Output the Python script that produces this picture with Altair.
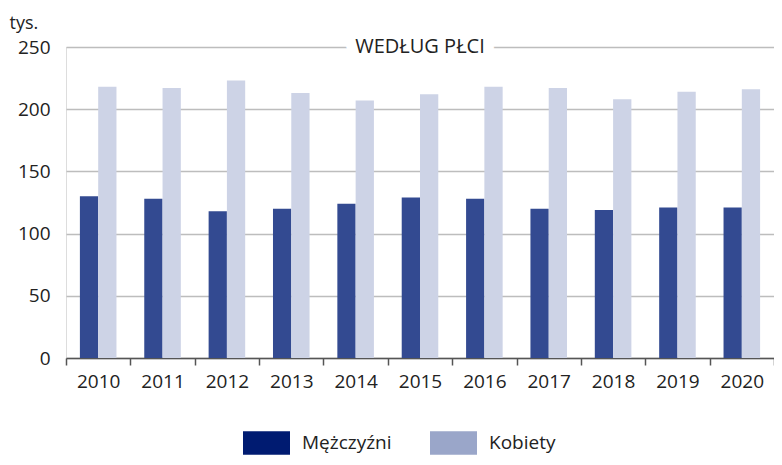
import altair as alt
import pandas as pd

years = ["2010", "2011", "2012", "2013", "2014", "2015", "2016", "2017", "2018", "2019", "2020"]
men = [130, 128, 118, 120, 124, 129, 128, 120, 119, 121, 121]
women = [218, 217, 223, 213, 207, 212, 218, 217, 208, 214, 216]
series = ["Mężczyźni", "Kobiety"]
bar_colors = ["#334a91", "#cdd3e6"]
legend_colors = ["#001b71", "#9aa6c9"]
y_ticks = [0, 50, 100, 150, 200, 250]
title_text = "WEDŁUG PŁCI"

rows = []
for i, y in enumerate(years):
    rows.append({"rok": y, "seria": series[0], "v": men[i]})
    rows.append({"rok": y, "seria": series[1], "v": women[i]})
df = pd.DataFrame(rows)

FONT = "Open Sans"
W, H = 708, 311
FS = 19

x_enc = alt.X("rok:N", sort=years, title=None,
              scale=alt.Scale(paddingInner=0, paddingOuter=0),
              axis=alt.Axis(labelAngle=0, labelFontSize=FS, labelColor="#222222",
                            labelFont=FONT, domainColor="#555555", domainWidth=1.5,
                            tickColor="#555555", tickWidth=1.5, tickSize=7,
                            tickBand="extent", labelPadding=7, grid=False))
y_enc = alt.Y("v:Q", title="tys.",
              scale=alt.Scale(domain=[0, 250], nice=False),
              axis=alt.Axis(values=y_ticks, labelFontSize=FS, labelColor="#222222",
                            labelFont=FONT, domain=False, ticks=False, labelPadding=16,
                            grid=True, gridColor="#bdbdbd", gridWidth=1.4,
                            titleAngle=0, titleAlign="left", titleBaseline="alphabetic",
                            titleX=-57, titleY=-19, titleFontSize=18,
                            titleFontWeight="normal", titleFont=FONT, titleColor="#222222"))
xo = alt.XOffset("seria:N", sort=series,
                 scale=alt.Scale(paddingInner=0, paddingOuter=0.76))

bars = alt.Chart(df).mark_bar().encode(
    x=x_enc, y=y_enc, xOffset=xo,
    color=alt.Color("seria:N", sort=series,
                    scale=alt.Scale(domain=series, range=bar_colors), legend=None),
)

legend_layer = alt.Chart(df).mark_bar(opacity=0).encode(
    x=alt.X("rok:N", sort=years), y=alt.Y("v:Q"), xOffset=xo,
    color=alt.Color("seria:N", sort=series, title=None,
                    scale=alt.Scale(domain=series, range=legend_colors),
                    legend=alt.Legend(orient="none", direction="horizontal",
                                      legendX=177, legendY=372,
                                      symbolType="M-1,-0.5H1V0.5H-1Z", symbolSize=2209,
                                      symbolOpacity=1, symbolStrokeWidth=0,
                                      labelFontSize=FS, labelFont=FONT, labelColor="#222222",
                                      labelOffset=12, columnPadding=38, labelLimit=300)),
)

tdf = pd.DataFrame({"t": [title_text], "v": [250]})
mask = alt.Chart(tdf).mark_text(fontSize=20, font=FONT, color="white", stroke="white",
                                strokeWidth=22, baseline="middle", align="center").encode(
    text="t:N", x=alt.value(W / 2), y=alt.Y("v:Q"))
title = alt.Chart(tdf).mark_text(fontSize=20, font=FONT, color="#222222",
                                 baseline="middle", align="center").encode(
    text="t:N", x=alt.value(W / 2), y=alt.Y("v:Q"))

chart = alt.layer(bars, legend_layer, mask, title).resolve_scale(color="independent").properties(
    width=W, height=H,
    autosize=alt.AutoSizeParams(type="none"),
    padding={"left": 58, "top": 39, "right": 0, "bottom": 99},
).configure_view(stroke=None).configure(font=FONT)

chart.save("out.html", embed_options={"renderer": "svg", "actions": False})
